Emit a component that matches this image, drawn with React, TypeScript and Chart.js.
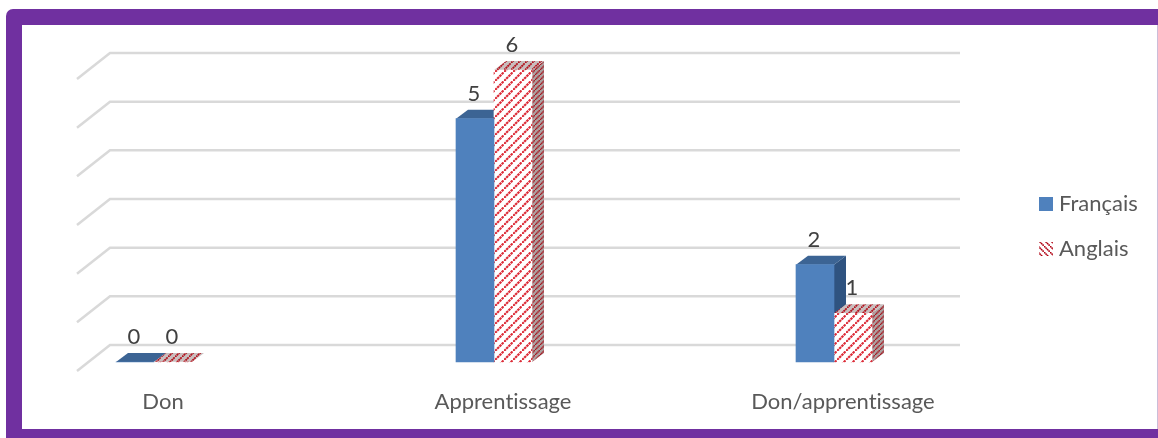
import React, { useEffect, useRef } from "react";
import { Chart, registerables } from "chart.js";

Chart.register(...registerables);

const categories = ["Don", "Apprentissage", "Don/apprentissage"];
const francais = [0, 5, 2];
const anglais = [0, 6, 1];
const wallTicks = [0, 1, 2, 3, 4, 5, 6];

const FONT = "Lato, 'Open Sans', sans-serif";
const PURPLE = "#7030a0";
const BLUE = "#4f81bd";
const DEPTH_X = 12;
const DEPTH_Y = 9;

// Diagonal dotted red stripes on a given ground colour.
function hatch(ground: string, ink: string, tile = 10, width = 3, flip = false): CanvasPattern {
  const c = document.createElement("canvas");
  c.width = tile;
  c.height = tile;
  const g = c.getContext("2d")!;
  g.fillStyle = ground;
  g.fillRect(0, 0, tile, tile);
  g.strokeStyle = ink;
  g.lineWidth = width;
  const period = (tile * Math.SQRT2) / 4;
  g.setLineDash([period * 0.8, period * 0.2]);
  g.beginPath();
  if (flip) {
    g.moveTo(0, 0);
    g.lineTo(tile, tile);
  } else {
    g.moveTo(0, tile);
    g.lineTo(tile, 0);
  }
  g.stroke();
  return g.createPattern(c, "repeat")!;
}

function extrude(
  ctx: CanvasRenderingContext2D,
  left: number,
  right: number,
  top: number,
  bottom: number,
  topFill: string | CanvasPattern,
  sideFill: string | CanvasPattern
) {
  ctx.fillStyle = sideFill;
  ctx.beginPath();
  ctx.moveTo(right, top);
  ctx.lineTo(right + DEPTH_X, top - DEPTH_Y);
  ctx.lineTo(right + DEPTH_X, bottom - DEPTH_Y);
  ctx.lineTo(right, bottom);
  ctx.closePath();
  ctx.fill();
  ctx.fillStyle = topFill;
  ctx.beginPath();
  ctx.moveTo(left, top);
  ctx.lineTo(left + DEPTH_X, top - DEPTH_Y);
  ctx.lineTo(right + DEPTH_X, top - DEPTH_Y);
  ctx.lineTo(right, top);
  ctx.closePath();
  ctx.fill();
}

export default function App() {
  const ref = useRef<HTMLCanvasElement>(null);

  useEffect(() => {
    document.body.style.margin = "0";
    const canvas = ref.current!;
    const faces = [
      { top: "#3c6494", side: "#2f5380" },
      { top: hatch("#c9bebe", "#b3141f", 7, 1.8), side: hatch("#aca0a0", "#a8121c", 5, 1.4) },
    ];
    const swatch = hatch("#ffffff", "#b00012", 6, 1.6, true);

    const frame = {
      id: "frame",
      beforeDraw(chart: any) {
        const { ctx, width, height } = chart;
        // Non-zero spacing keeps the "ti" pair in the labels as two letters.
        ctx.letterSpacing = "0.01px";
        ctx.save();
        ctx.fillStyle = PURPLE;
        ctx.beginPath();
        ctx.roundRect(6, 9, width + 20, height, 7);
        ctx.fill();
        ctx.fillStyle = "#ffffff";
        ctx.fillRect(22, 25, width - 23, 404);
        ctx.fillStyle = "#cbbdd9";
        ctx.fillRect(width - 1, 25, 1, 404);
        ctx.restore();
      },
    };

    const wall = {
      id: "wall",
      beforeDatasetsDraw(chart: any) {
        const { ctx, scales } = chart;
        ctx.save();
        ctx.strokeStyle = "#d9d9d9";
        ctx.lineWidth = 2.5;
        for (const t of wallTicks) {
          const y = scales.y.getPixelForValue(t);
          ctx.beginPath();
          ctx.moveTo(77, y + 9);
          ctx.lineTo(110, y - 17);
          ctx.lineTo(960, y - 17);
          ctx.stroke();
        }
        ctx.restore();
      },
    };

    // The datasets paint right to left, so every top and side goes down first,
    // left series before right series.
    const solids = {
      id: "solids",
      beforeDatasetsDraw(chart: any) {
        chart.data.datasets.forEach((_: any, i: number) => {
          chart.getDatasetMeta(i).data.forEach((bar: any) => {
            const p = bar.getProps(["x", "y", "base", "width"], true);
            extrude(chart.ctx, p.x - p.width / 2, p.x + p.width / 2, p.y, p.base, faces[i].top, faces[i].side);
          });
        });
      },
    };

    const valueLabels = {
      id: "valueLabels",
      afterDatasetsDraw(chart: any) {
        const { ctx } = chart;
        ctx.save();
        ctx.font = `22px ${FONT}`;
        ctx.fillStyle = "#404040";
        ctx.textAlign = "center";
        ctx.textBaseline = "middle";
        chart.data.datasets.forEach((ds: any, i: number) => {
          chart.getDatasetMeta(i).data.forEach((bar: any, j: number) => {
            ctx.fillText(String(ds.data[j]), bar.x - 1, bar.y - 25);
          });
        });
        ctx.restore();
      },
    };

    const sideLegend = {
      id: "sideLegend",
      afterDraw(chart: any) {
        const { ctx } = chart;
        ctx.save();
        ctx.font = `22px ${FONT}`;
        ctx.textBaseline = "middle";
        chart.data.datasets.forEach((ds: any, i: number) => {
          const y = i === 0 ? 204 : 249;
          ctx.fillStyle = i === 0 ? ds.backgroundColor : swatch;
          ctx.fillRect(1039, y - 7, 14, 14);
          ctx.fillStyle = "#595959";
          ctx.fillText(ds.label, 1059, y);
        });
        ctx.restore();
      },
    };

    const chart = new Chart(canvas, {
      type: "bar",
      data: {
        labels: categories,
        datasets: [
          { label: "Français", data: francais, backgroundColor: BLUE, clip: false },
          { label: "Anglais", data: anglais, backgroundColor: hatch("#ffffff", "#dc2c38", 9, 2.2), clip: false },
        ] as any,
      },
      options: {
        responsive: false,
        animation: false,
        devicePixelRatio: 1,
        layout: { padding: { left: 154, right: 324, top: 70, bottom: 0 } },
        datasets: { bar: { barThickness: 38 } },
        plugins: { legend: { display: false }, tooltip: { enabled: false }, title: { display: false } },
        scales: {
          x: {
            offset: false,
            grid: { display: false },
            border: { display: false },
            afterFit(axis: any) {
              axis.height = 76;
            },
            ticks: {
              autoSkip: false,
              maxRotation: 0,
              labelOffset: 9,
              padding: 19,
              color: "#595959",
              font: { family: FONT, size: 22 },
            },
          },
          y: {
            min: 0,
            max: 6,
            display: false,
            ticks: { stepSize: 1 },
          },
        },
      } as any,
      plugins: [frame, wall, solids, valueLabels, sideLegend],
    });
    return () => chart.destroy();
  }, []);

  return <canvas ref={ref} width={1158} height={438} style={{ display: "block" }} />;
}
